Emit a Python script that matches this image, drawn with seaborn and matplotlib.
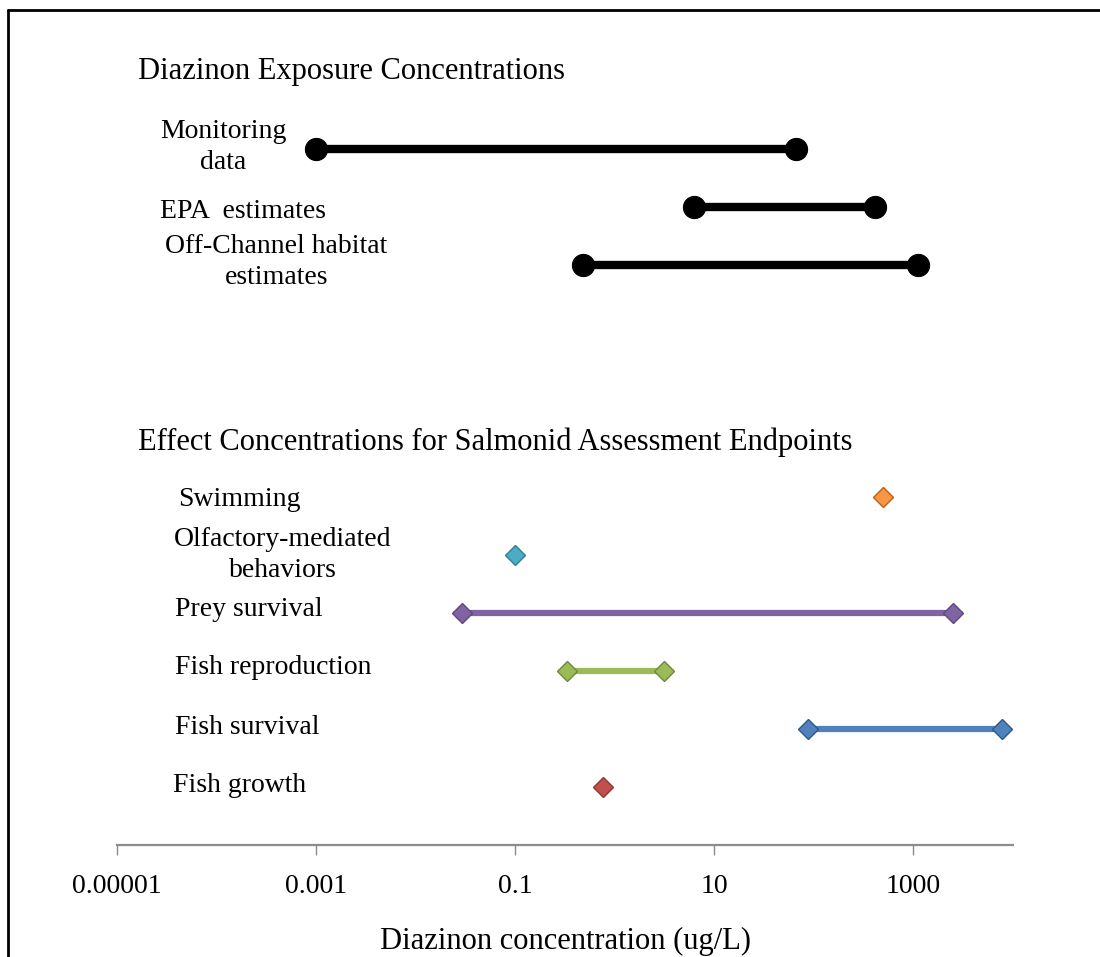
import matplotlib
matplotlib.use("Agg")
import matplotlib.pyplot as plt
from matplotlib.lines import Line2D
import seaborn as sns

sns.set_style("white")
plt.rcParams["font.family"] = ["Liberation Serif", "DejaVu Serif"]
plt.rcParams["text.color"] = "black"
plt.rcParams["xtick.color"] = "black"
plt.rcParams["axes.labelcolor"] = "black"

# exposure ranges (ug/L)
exposure_labels = ["Monitoring\ndata", "EPA  estimates", "Off-Channel habitat\nestimates"]
exposure_low = [0.001, 6.2, 0.48]
exposure_high = [66, 415, 1100]

# effect concentrations (ug/L), None = single value
effect_labels = ["Swimming", "Olfactory-mediated\nbehaviors", "Prey survival",
                 "Fish reproduction", "Fish survival", "Fish growth"]
effect_low = [490, 0.1, 0.029, 0.33, 88, 0.77]
effect_high = [None, None, 2470, 3.1, 7800, None]
effect_colors = ["#F79646", "#4BACC6", "#8064A2", "#9BBB59", "#4F81BD", "#C0504D"]
effect_edges = ["#C0600A", "#2F7F95", "#5F497A", "#6C8A34", "#2F5888", "#943634"]

tick_values = [1e-5, 1e-3, 1e-1, 10, 1000]
tick_labels = ["0.00001", "0.001", "0.1", "10", "1000"]

W, H = 1100, 957
fig = plt.figure(figsize=(W / 100, H / 100), dpi=100)

# axes placed so that the bottom spine is the concentration axis
ax_left, ax_right, ax_bottom, ax_top = 117, 1013, 845, 20
ax = fig.add_axes([ax_left / W, 1 - ax_bottom / H,
                   (ax_right - ax_left) / W, (ax_bottom - ax_top) / H])
row_px = 58
ax.set_ylim(12, 12 - (ax_bottom - ax_top) / row_px)

exposure_rows = [0, 1, 2]
effect_rows = [6, 7, 8, 9, 10, 11]

for r, lo, hi in zip(exposure_rows, exposure_low, exposure_high):
    sns.lineplot(x=[lo, hi], y=[r, r], color="black", lw=6, marker="o",
                 markersize=16, markeredgecolor="black", estimator=None,
                 sort=False, ax=ax)

for r, lo, hi, c, ec in zip(effect_rows, effect_low, effect_high, effect_colors, effect_edges):
    xs = [lo] if hi is None else [lo, hi]
    sns.lineplot(x=xs, y=[r] * len(xs), color=c, lw=4.5, marker="D",
                 markersize=10, markeredgecolor=ec, markeredgewidth=1,
                 estimator=None, sort=False, ax=ax)

ax.set_xscale("log")
ax.set_xlim(1e-5, 1e4)
ax.set_xticks(tick_values)
ax.set_xticklabels(tick_labels, fontsize=20)
ax.minorticks_off()
ax.set_yticks([])
ax.set_ylabel("")
for s in ["top", "left", "right"]:
    ax.spines[s].set_visible(False)
ax.spines["bottom"].set_color("#8c8c8c")
ax.spines["bottom"].set_linewidth(1.6)
ax.tick_params(axis="x", direction="out", length=7, width=1, color="#8c8c8c",
               labelcolor="black", pad=14, bottom=True)
ax.set_xlabel("Diazinon concentration (ug/L)", fontsize=22, labelpad=20)

# section headings
fig.text(138 / W, 1 - 72 / H, "Diazinon Exposure Concentrations",
         fontsize=22, ha="left", va="center")
fig.text(138 / W, 1 - 442 / H, "Effect Concentrations for Salmonid Assessment Endpoints",
         fontsize=22, ha="left", va="center")

# row labels (left edge, vertical centre in pixels)
exposure_label_pos = [(160, 147), (160, 212), (165, 262)]
effect_label_pos = [(178, 499), (174, 555), (175, 609), (175, 668), (175, 728), (173, 786)]
for txt, (px, py) in zip(exposure_labels + effect_labels, exposure_label_pos + effect_label_pos):
    fig.text(px / W, 1 - py / H, txt, fontsize=20, ha="left", va="center",
             multialignment="center", linespacing=1.35)

# chart border (top and left edges)
fig.add_artist(Line2D([8 / W, 8 / W], [0, 1 - 10 / H], transform=fig.transFigure,
                      color="black", lw=2))
fig.add_artist(Line2D([8 / W, 1], [1 - 10 / H, 1 - 10 / H], transform=fig.transFigure,
                      color="black", lw=2))

fig.savefig("out.png", dpi=100)
